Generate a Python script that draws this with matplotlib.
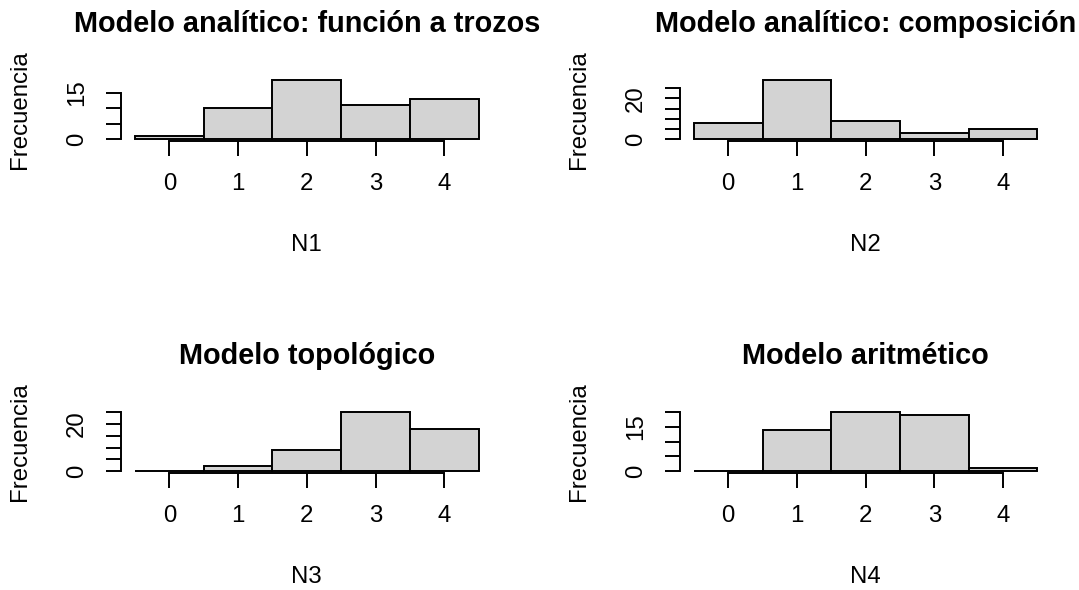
"""
Histogramas de frecuencia de N1..N4 (estilo hist() de R base, mfrow 2x2).
"""

import matplotlib
matplotlib.use("Agg")
import matplotlib.pyplot as plt

# --- Datos (conteos por clase, clases centradas en 0..4) ---
CLASES = [0, 1, 2, 3, 4]
N1 = [1, 10, 19, 11, 13]
N2 = [8, 29, 9, 3, 5]
N3 = [0, 2, 9, 25, 18]
N4 = [0, 14, 20, 19, 1]

TITULOS = ["Modelo analítico: función a trozos", "Modelo analítico: composición",
           "Modelo topológico", "Modelo aritmético"]
XLABELS = ["N1", "N2", "N3", "N4"]
YTICKS = [[0, 5, 10, 15], [0, 5, 10, 15, 20, 25],
          [0, 5, 10, 15, 20, 25], [0, 5, 10, 15, 20]]
YTICKLABELS = [["0", "", "", "15"], ["0", "", "", "", "20", ""],
               ["0", "", "", "", "20", ""], ["0", "", "", "15", ""]]

# --- Mise en page (pixels) ---
W, H = 1079, 590
PW, PH = 371, 63.5                     # region de trace
LEFTS = [121.3, 680.1]
BOTTOMS = [141.4, 473.4]               # bord bas de la region (depuis le haut)

plt.rcParams["font.family"] = ["Liberation Sans", "DejaVu Sans"]
LAB_FS = 17.3
TIT_FS = 20.8
LW = 1.4

fig = plt.figure(figsize=(W / 100, H / 100), dpi=100)

datos = [N1, N2, N3, N4]
for i, cnt in enumerate(datos):
    left = LEFTS[i % 2]
    bottom = BOTTOMS[i // 2]
    ax = fig.add_axes([left / W, 1 - bottom / H, PW / W, PH / H])

    ax.bar(CLASES, cnt, width=1.0, color="#D3D3D3", edgecolor="black", linewidth=LW)

    ymax = max(cnt)
    ax.set_xlim(-0.7, 4.7)
    ax.set_ylim(-0.04 * ymax, 1.04 * ymax)

    for s in ("top", "right"):
        ax.spines[s].set_visible(False)
    ax.spines["left"].set_bounds(YTICKS[i][0], YTICKS[i][-1])
    ax.spines["bottom"].set_bounds(0, 4)
    for s in ("left", "bottom"):
        ax.spines[s].set_linewidth(LW)

    ax.set_xticks(CLASES)
    ax.set_xticklabels([str(c) for c in CLASES])
    ax.set_yticks(YTICKS[i])
    ax.set_yticklabels(YTICKLABELS[i])
    ax.tick_params(axis="both", length=11, width=LW, labelsize=LAB_FS)
    ax.tick_params(axis="x", pad=12)
    ax.tick_params(axis="y", pad=13)
    for lab in ax.get_yticklabels():
        lab.set_rotation(90)
        lab.set_va("center")
        lab.set_ha("right")

    ax.set_title(TITULOS[i], fontsize=TIT_FS, fontweight="bold", pad=33)
    ax.set_xlabel(XLABELS[i], fontsize=LAB_FS)
    ax.xaxis.label.set_va("center")
    ax.xaxis.set_label_coords(0.5, -104 / PH)
    ax.set_ylabel("Frecuencia", fontsize=LAB_FS)
    ax.yaxis.label.set_va("center")
    ax.yaxis.set_label_coords(-101 / PW, 0.5)

fig.savefig("out.png", dpi=100)
